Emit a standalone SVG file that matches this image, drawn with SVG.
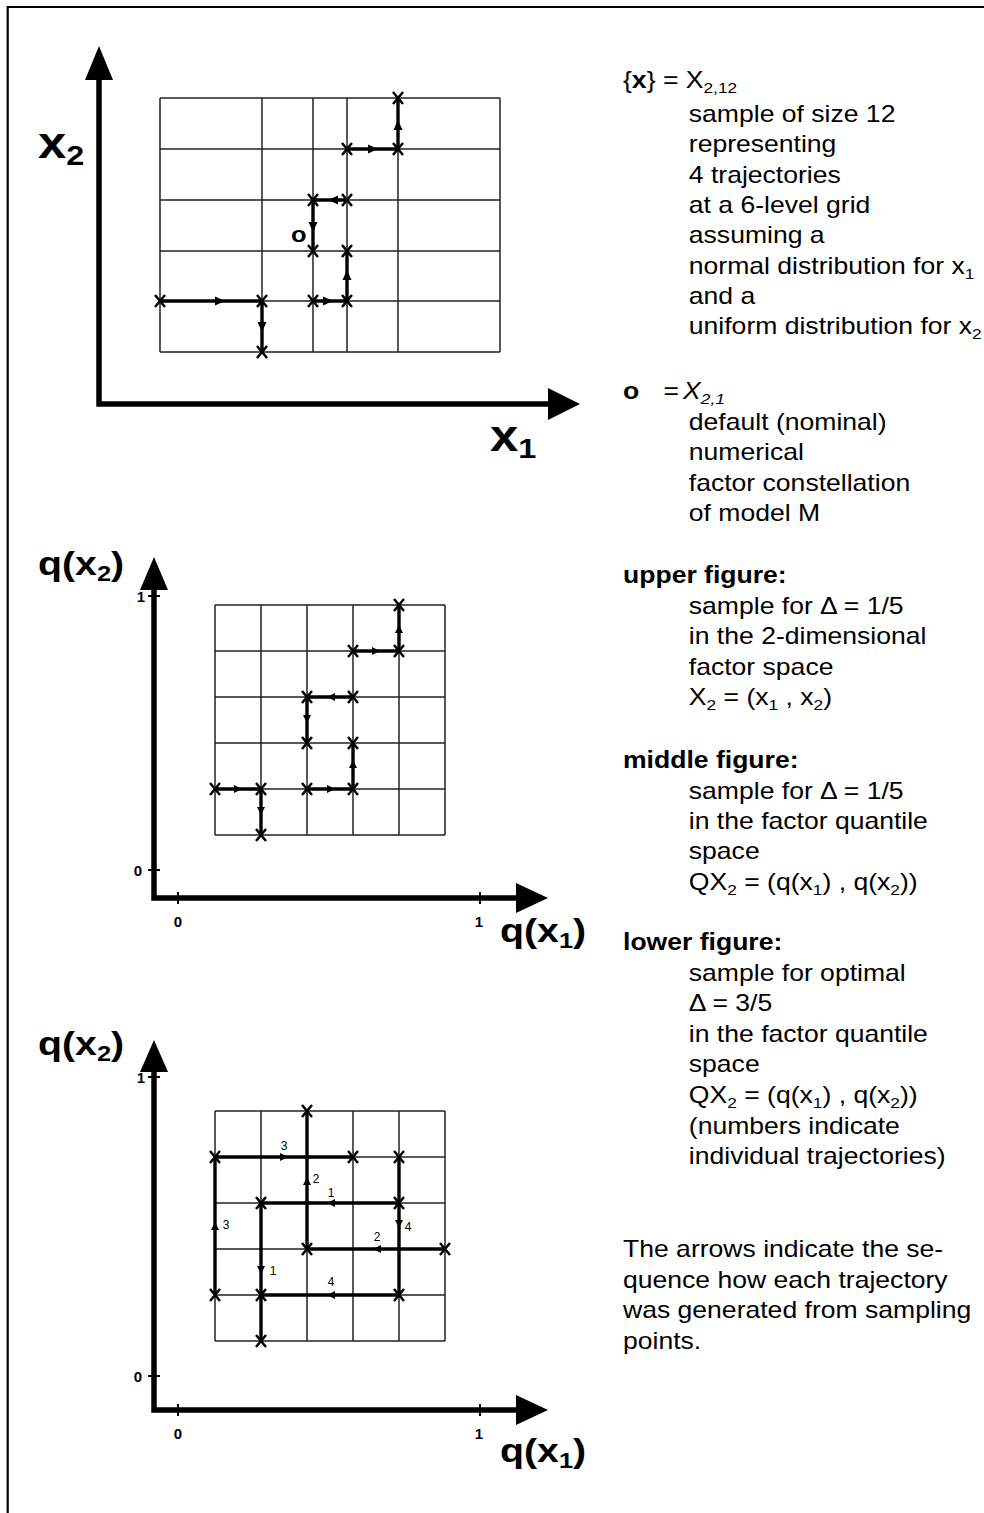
<svg xmlns="http://www.w3.org/2000/svg" xmlns:xlink="http://www.w3.org/1999/xlink" width="984" height="1513" viewBox="0 0 984 1513">
<style>
.grid{fill:none;stroke:#222;stroke-width:1.5}
.traj{fill:none;stroke:#000;stroke-width:3.4;stroke-linejoin:miter}
.axis{fill:none;stroke:#000;stroke-width:5.5}
.tick{fill:none;stroke:#000;stroke-width:2}
.xm{fill:none;stroke:#000;stroke-width:2.5}
.t{font-family:"Liberation Sans",Arial,sans-serif;font-size:23px;fill:#000}
.b{font-weight:bold}
.lab{font-family:"Liberation Sans",Arial,sans-serif;font-weight:bold;fill:#000}
.num{font-family:"Liberation Sans",Arial,sans-serif;font-size:12px;fill:#000;text-anchor:middle}
.tl{font-family:"Liberation Sans",Arial,sans-serif;font-size:15px;font-weight:bold;fill:#000;text-anchor:middle}
</style>
<defs>
<path id="x" class="xm" d="M-5,-6 L5,6 M5,-6 L-5,6"/>
<path id="ahB" d="M0,0 L-10,-4.5 L-10,4.5 Z" fill="#000"/>
<path id="ahS" d="M0,0 L-8,-4 L-8,4 Z" fill="#000"/>
</defs>
<rect width="984" height="1513" fill="#fff"/>
<!-- border -->
<path d="M7.7,1513 V7 H984" fill="none" stroke="#000" stroke-width="2.2"/>

<!-- TOP FIGURE -->
<g id="top-figure">
<g id="top-axes">
<path class="axis" d="M99,78 V404 H550" stroke-width="6"/>
<path d="M99,46 L85,80 L113,80 Z" fill="#000"/>
<path d="M580,404 L548,388 L548,420 Z" fill="#000"/>
<text class="lab" font-size="44" transform="matrix(1.155 0 0 1 38 158)">x<tspan font-size="28" dy="7">2</tspan></text>
<text class="lab" font-size="44" transform="matrix(1.155 0 0 1 490 451)">x<tspan font-size="28" dy="7">1</tspan></text>
</g>
<g id="top-grid" class="grid">
<path d="M160,98 V352 M262,98 V352 M313,98 V352 M347,98 V352 M398,98 V352 M500,98 V352"/>
<path d="M160,98 H500 M160,149 H500 M160,200 H500 M160,251 H500 M160,301 H500 M160,352 H500"/>
</g>
<g id="top-connectors">
<path class="traj" d="M160,301 H262 V352"/>
<path class="traj" d="M313,301 H347 V251"/>
<path class="traj" d="M347,200 H313 V251"/>
<path class="traj" d="M347,149 H398 V98"/>
<use href="#ahB" transform="translate(225,301)"/>
<use href="#ahB" transform="translate(262,332) rotate(90)"/>
<use href="#ahB" transform="translate(333,301)"/>
<use href="#ahB" transform="translate(347,270) rotate(-90)"/>
<use href="#ahB" transform="translate(328,200) rotate(180)"/>
<use href="#ahB" transform="translate(313,232) rotate(90)"/>
<use href="#ahB" transform="translate(378,149)"/>
<use href="#ahB" transform="translate(398,120) rotate(-90)"/>
</g>
<g id="top-points">
<use href="#x" x="160" y="301"/><use href="#x" x="262" y="301"/><use href="#x" x="262" y="352"/>
<use href="#x" x="313" y="301"/><use href="#x" x="347" y="301"/><use href="#x" x="347" y="251"/>
<use href="#x" x="347" y="200"/><use href="#x" x="313" y="200"/><use href="#x" x="313" y="251"/>
<use href="#x" x="347" y="149"/><use href="#x" x="398" y="149"/><use href="#x" x="398" y="98"/>
</g>
<text id="nominal-o" class="lab" font-size="22" transform="matrix(1.155 0 0 1 291 242)">o</text>
</g>

<!-- MIDDLE FIGURE -->
<g id="middle-figure">
<g id="mid-axes">
<path class="axis" d="M154,588 V898 H518"/>
<path d="M154,557 L140,590 L168,590 Z" fill="#000"/>
<path d="M548,898 L516,883 L516,913 Z" fill="#000"/>
<path class="tick" d="M148,596 H160 M148,870 H160 M178,892 V904 M480,892 V904"/>
<text class="tl" x="141" y="602">1</text>
<text class="tl" x="138" y="876">0</text>
<text class="tl" x="178" y="927">0</text>
<text class="tl" x="479" y="927">1</text>
<text class="lab" font-size="34" transform="matrix(1.155 0 0 1 38 575)">q(x<tspan font-size="22" dy="6">2</tspan><tspan dy="-6">)</tspan></text>
<text class="lab" font-size="34" transform="matrix(1.155 0 0 1 500 942)">q(x<tspan font-size="22" dy="6">1</tspan><tspan dy="-6">)</tspan></text>
</g>
<g id="mid-grid" class="grid">
<path d="M215,605 V835 M261,605 V835 M307,605 V835 M353,605 V835 M399,605 V835 M445,605 V835"/>
<path d="M215,605 H445 M215,651 H445 M215,697 H445 M215,743 H445 M215,789 H445 M215,835 H445"/>
</g>
<g id="mid-connectors">
<path class="traj" d="M215,789 H261 V835"/>
<path class="traj" d="M307,789 H353 V743"/>
<path class="traj" d="M353,697 H307 V743"/>
<path class="traj" d="M353,651 H399 V605"/>
<use href="#ahS" transform="translate(242,789)"/>
<use href="#ahS" transform="translate(261,815) rotate(90)"/>
<use href="#ahS" transform="translate(335,789)"/>
<use href="#ahS" transform="translate(353,760) rotate(-90)"/>
<use href="#ahS" transform="translate(327,697) rotate(180)"/>
<use href="#ahS" transform="translate(307,723) rotate(90)"/>
<use href="#ahS" transform="translate(380,651)"/>
<use href="#ahS" transform="translate(399,625) rotate(-90)"/>
</g>
<g id="mid-points">
<use href="#x" x="215" y="789"/><use href="#x" x="261" y="789"/><use href="#x" x="261" y="835"/>
<use href="#x" x="307" y="789"/><use href="#x" x="353" y="789"/><use href="#x" x="353" y="743"/>
<use href="#x" x="353" y="697"/><use href="#x" x="307" y="697"/><use href="#x" x="307" y="743"/>
<use href="#x" x="353" y="651"/><use href="#x" x="399" y="651"/><use href="#x" x="399" y="605"/>
</g>
</g>

<!-- LOWER FIGURE -->
<g id="lower-figure">
<g id="low-axes">
<path class="axis" d="M154,1070 V1410 H518"/>
<path d="M154,1040 L140,1072 L168,1072 Z" fill="#000"/>
<path d="M548,1410 L516,1395 L516,1425 Z" fill="#000"/>
<path class="tick" d="M148,1077 H160 M148,1376 H160 M178,1404 V1416 M480,1404 V1416"/>
<text class="tl" x="141" y="1083">1</text>
<text class="tl" x="138" y="1382">0</text>
<text class="tl" x="178" y="1439">0</text>
<text class="tl" x="479" y="1439">1</text>
<text class="lab" font-size="34" transform="matrix(1.155 0 0 1 38 1055)">q(x<tspan font-size="22" dy="6">2</tspan><tspan dy="-6">)</tspan></text>
<text class="lab" font-size="34" transform="matrix(1.155 0 0 1 500 1462)">q(x<tspan font-size="22" dy="6">1</tspan><tspan dy="-6">)</tspan></text>
</g>
<g id="low-grid" class="grid">
<path d="M215,1111 V1341 M261,1111 V1341 M307,1111 V1341 M353,1111 V1341 M399,1111 V1341 M445,1111 V1341"/>
<path d="M215,1111 H445 M215,1157 H445 M215,1203 H445 M215,1249 H445 M215,1295 H445 M215,1341 H445"/>
</g>
<g id="low-connectors">
<path class="traj" d="M399,1203 H261 V1341"/>
<path class="traj" d="M445,1249 H307 V1111"/>
<path class="traj" d="M215,1295 V1157 H353"/>
<path class="traj" d="M399,1157 V1295 H261"/>
<use href="#ahS" transform="translate(327,1203) rotate(180)"/>
<use href="#ahS" transform="translate(261,1274) rotate(90)"/>
<use href="#ahS" transform="translate(373,1249) rotate(180)"/>
<use href="#ahS" transform="translate(307,1177) rotate(-90)"/>
<use href="#ahS" transform="translate(215,1222) rotate(-90)"/>
<use href="#ahS" transform="translate(288,1157)"/>
<use href="#ahS" transform="translate(399,1228) rotate(90)"/>
<use href="#ahS" transform="translate(327,1295) rotate(180)"/>
<text class="num" x="331" y="1197">1</text>
<text class="num" x="273" y="1275">1</text>
<text class="num" x="377" y="1241">2</text>
<text class="num" x="316" y="1183">2</text>
<text class="num" x="226" y="1229">3</text>
<text class="num" x="284" y="1150">3</text>
<text class="num" x="408" y="1231">4</text>
<text class="num" x="331" y="1286">4</text>
</g>
<g id="low-points">
<use href="#x" x="261" y="1341"/><use href="#x" x="215" y="1295"/><use href="#x" x="261" y="1295"/>
<use href="#x" x="399" y="1295"/><use href="#x" x="307" y="1249"/><use href="#x" x="445" y="1249"/>
<use href="#x" x="261" y="1203"/><use href="#x" x="399" y="1203"/><use href="#x" x="215" y="1157"/>
<use href="#x" x="353" y="1157"/><use href="#x" x="399" y="1157"/><use href="#x" x="307" y="1111"/>
</g>
</g>

<!-- RIGHT TEXT -->
<g id="legend" class="t" transform="matrix(1.155 0 0 1 623 0)">
<text x="0" y="88">{<tspan class="b">x</tspan>} = X<tspan font-size="15" dy="5">2,12</tspan></text>
<text x="57" y="122">sample of size 12</text>
<text x="57" y="152">representing</text>
<text x="57" y="183">4 trajectories</text>
<text x="57" y="213">at a 6-level grid</text>
<text x="57" y="243">assuming a</text>
<text x="57" y="274">normal distribution for x<tspan font-size="15" dy="5">1</tspan></text>
<text x="57" y="304">and a</text>
<text x="57" y="334">uniform distribution for x<tspan font-size="15" dy="5">2</tspan></text>

<text x="0" y="399"><tspan class="b">o</tspan><tspan x="35">=</tspan><tspan x="52" font-style="italic">X</tspan><tspan font-style="italic" font-size="15" dy="5">2,1</tspan></text>
<text x="57" y="430">default (nominal)</text>
<text x="57" y="460">numerical</text>
<text x="57" y="491">factor constellation</text>
<text x="57" y="521">of model M</text>

<text x="0" y="583" class="b">upper figure:</text>
<text x="57" y="614">sample for Δ = 1/5</text>
<text x="57" y="644">in the 2-dimensional</text>
<text x="57" y="675">factor space</text>
<text x="57" y="705">X<tspan font-size="15" dy="5">2</tspan><tspan dy="-5"> = (x</tspan><tspan font-size="15" dy="5">1</tspan><tspan dy="-5"> , x</tspan><tspan font-size="15" dy="5">2</tspan><tspan dy="-5">)</tspan></text>

<text x="0" y="768" class="b">middle figure:</text>
<text x="57" y="799">sample for Δ = 1/5</text>
<text x="57" y="829">in the factor quantile</text>
<text x="57" y="859">space</text>
<text x="57" y="890">QX<tspan font-size="15" dy="5">2</tspan><tspan dy="-5"> = (q(x</tspan><tspan font-size="15" dy="5">1</tspan><tspan dy="-5">) , q(x</tspan><tspan font-size="15" dy="5">2</tspan><tspan dy="-5">))</tspan></text>

<text x="0" y="950" class="b">lower figure:</text>
<text x="57" y="981">sample for optimal</text>
<text x="57" y="1011">Δ = 3/5</text>
<text x="57" y="1042">in the factor quantile</text>
<text x="57" y="1072">space</text>
<text x="57" y="1103">QX<tspan font-size="15" dy="5">2</tspan><tspan dy="-5"> = (q(x</tspan><tspan font-size="15" dy="5">1</tspan><tspan dy="-5">) , q(x</tspan><tspan font-size="15" dy="5">2</tspan><tspan dy="-5">))</tspan></text>
<text x="57" y="1134">(numbers indicate</text>
<text x="57" y="1164">individual trajectories)</text>

<text x="0" y="1257">The arrows indicate the se-</text>
<text x="0" y="1288">quence how each trajectory</text>
<text x="0" y="1318">was generated from sampling</text>
<text x="0" y="1349">points.</text>
</g>
</svg>
